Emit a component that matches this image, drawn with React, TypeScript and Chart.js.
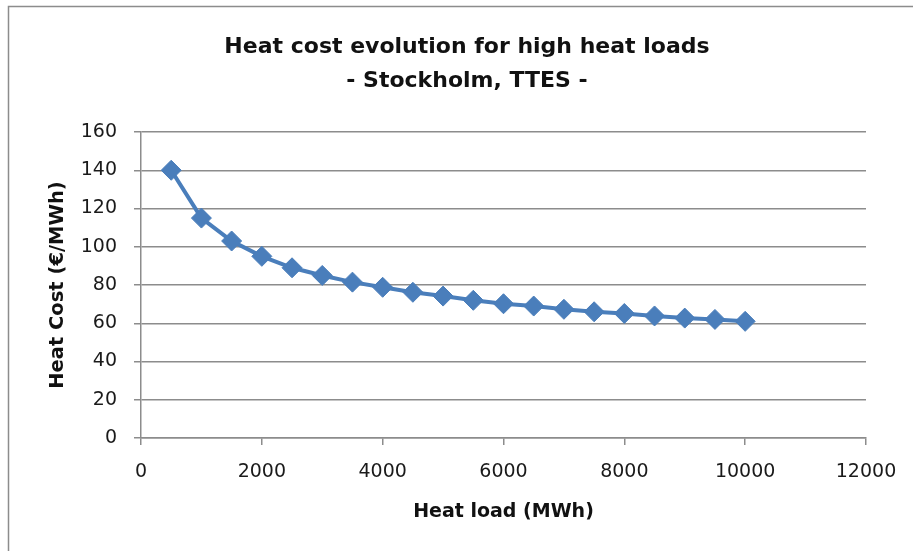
import React, { useEffect, useRef } from "react";
import { Chart, registerables } from "chart.js";

Chart.register(...registerables);

const heatLoads = [500, 1000, 1500, 2000, 2500, 3000, 3500, 4000, 4500, 5000, 5500, 6000, 6500, 7000, 7500, 8000, 8500, 9000, 9500, 10000];
const heatCosts = [140, 115, 103, 95, 89, 85, 81.5, 78.8, 76.2, 74.2, 72, 70.2, 69, 67.3, 66, 65.1, 63.8, 62.7, 62, 61];
const titleLines = ["Heat cost evolution for high heat loads", "- Stockholm, TTES -"];
const xTitle = "Heat load (MWh)";
const yTitle = "Heat Cost (\u20ac/MWh)";

const FONT = "'DejaVu Sans', sans-serif";

const framePlugin = {
  id: "frameAndTitle",
  beforeDraw(chart: any) {
    const ctx = chart.ctx;
    ctx.save();
    ctx.fillStyle = "#ffffff";
    ctx.fillRect(0, 0, chart.width, chart.height);
    ctx.strokeStyle = "#8c8c8c";
    ctx.lineWidth = 1.5;
    ctx.beginPath();
    ctx.moveTo(8.5, chart.height);
    ctx.lineTo(8.5, 6.5);
    ctx.lineTo(chart.width, 6.5);
    ctx.stroke();
    ctx.restore();
  },
  afterDraw(chart: any) {
    const ctx = chart.ctx;
    ctx.save();
    ctx.fillStyle = "#111111";
    ctx.font = `bold 22px ${FONT}`;
    ctx.textAlign = "center";
    ctx.textBaseline = "middle";
    ctx.fillText(titleLines[0], 467, 47);
    ctx.fillText(titleLines[1], 467, 81);
    ctx.restore();
  },
};

export default function App() {
  const ref = useRef<HTMLCanvasElement | null>(null);

  useEffect(() => {
    if (!ref.current) return;
    const chart = new Chart(ref.current, {
      type: "line",
      data: {
        datasets: [
          {
            data: heatLoads.map((x, i) => ({ x, y: heatCosts[i] })),
            borderColor: "#4a7ebb",
            backgroundColor: "#4a7ebb",
            borderWidth: 4,
            pointStyle: "rectRot",
            pointRadius: 10,
            pointBorderWidth: 1,
            pointBackgroundColor: "#4a7ebb",
            pointBorderColor: "#4a7ebb",
            tension: 0,
          },
        ],
      },
      options: {
        animation: false,
        responsive: false,
        maintainAspectRatio: false,
        layout: { padding: { top: 132, right: 47, bottom: 0, left: 0 } },
        plugins: {
          legend: { display: false },
          title: { display: false },
          tooltip: { enabled: false },
        },
        scales: {
          x: {
            type: "linear",
            min: 0,
            max: 12000,
            afterFit: (s: any) => {
              s.height = 113;
            },
            ticks: {
              stepSize: 2000,
              padding: 16,
              color: "#1a1a1a",
              font: { family: FONT, size: 19 },
              maxRotation: 0,
              callback: (v: any) => String(v),
            },
            grid: {
              drawOnChartArea: false,
              drawTicks: true,
              tickLength: 7,
              color: "#8c8c8c",
              lineWidth: 1.5,
            },
            border: { color: "#8c8c8c", width: 1.5 },
            title: {
              display: true,
              text: xTitle,
              color: "#111111",
              font: { family: FONT, size: 19, weight: "bold" },
              padding: { top: 0, bottom: 28 },
            },
          },
          y: {
            min: 0,
            max: 160,
            afterFit: (s: any) => {
              s.width = 141;
            },
            ticks: {
              stepSize: 20,
              padding: 17,
              color: "#1a1a1a",
              font: { family: FONT, size: 19 },
            },
            grid: {
              drawOnChartArea: true,
              drawTicks: true,
              tickLength: 7,
              color: "#8c8c8c",
              lineWidth: 1.5,
            },
            border: { color: "#8c8c8c", width: 1.5 },
            title: {
              display: true,
              text: yTitle,
              color: "#111111",
              font: { family: FONT, size: 19.5, weight: "bold" },
              padding: { top: 46, bottom: 0 },
            },
          },
        },
      },
      plugins: [framePlugin],
    });
    return () => chart.destroy();
  }, []);

  return (
    <div style={{ position: "absolute", left: 0, top: 0, width: 913, height: 551 }}>
      <canvas ref={ref} width={913} height={551} style={{ display: "block" }} />
    </div>
  );
}
